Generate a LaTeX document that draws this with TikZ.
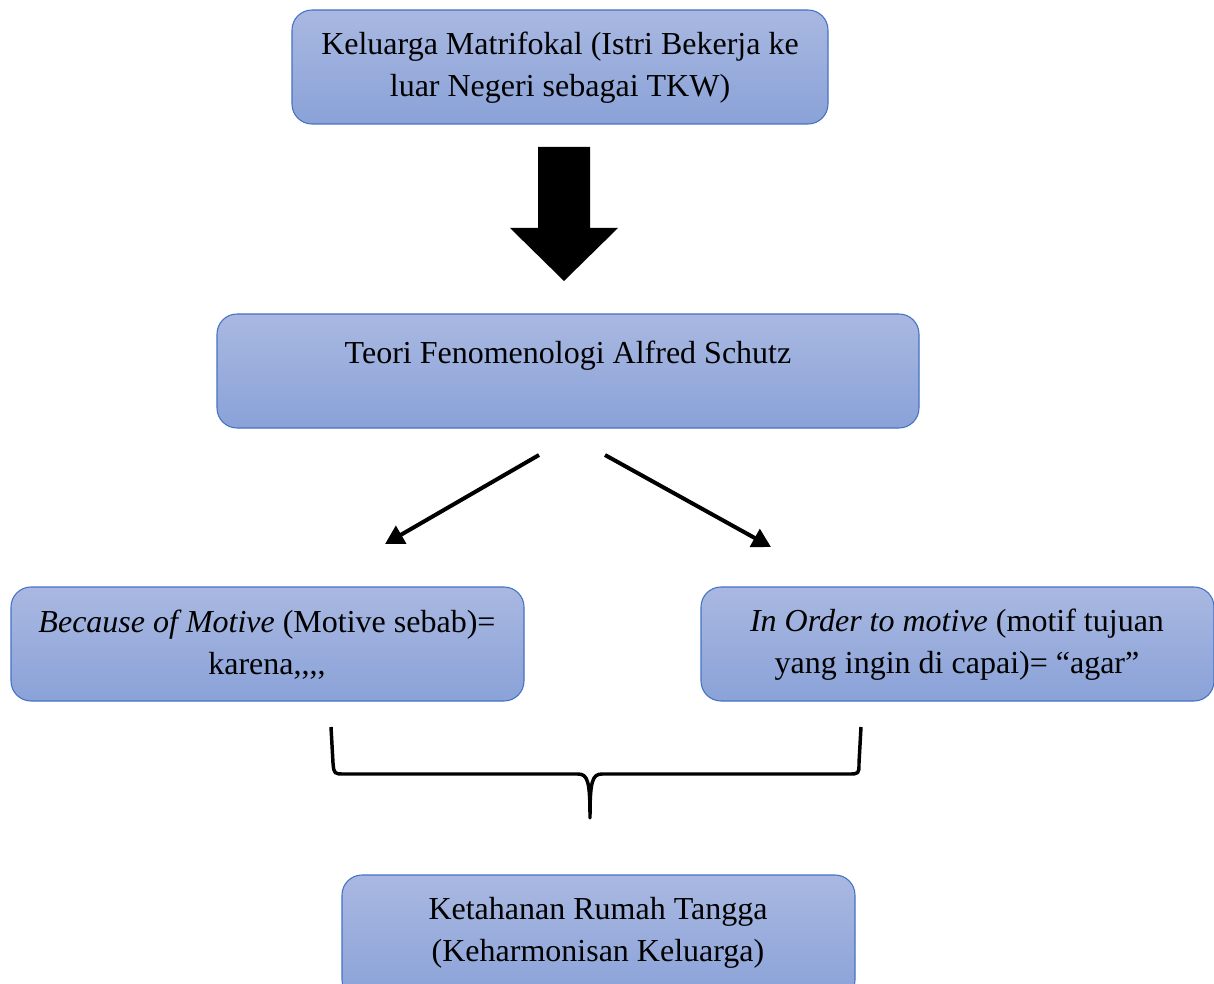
\documentclass[tikz,border=0pt]{standalone}
\usepackage{fontspec}
\setmainfont{Liberation Serif}
\usetikzlibrary{arrows.meta}
\definecolor{boxtop}{HTML}{A9B8E1}
\definecolor{boxbot}{HTML}{8AA2D8}
\definecolor{boxline}{HTML}{4472C4}
\tikzset{
  bx/.style={draw=boxline, line width=0.8pt, rounded corners=15pt, top color=boxtop, bottom color=boxbot, inner sep=0pt},
  tx/.style={align=center, inner sep=0pt, font=\fontsize{24}{31.5}\selectfont},
  thinarrow/.style={line width=3pt, -{Triangle[length=14pt,width=15pt]}},
}
\begin{document}
\begin{tikzpicture}[x=0.75pt,y=-0.75pt]
\useasboundingbox (0,0) rectangle (1214,984);
\clip (0,0) rectangle (1214,984);
% boxes
\path[bx] (292,10) rectangle (828,124);
\node[tx] (t1) at (560,68) {Keluarga Matrifokal (Istri Bekerja ke\\luar Negeri sebagai TKW)};
\path[bx] (217,314) rectangle (919,428);
\node[tx] (t2) at (568,356) {Teori Fenomenologi Alfred Schutz};
\path[bx] (11,587) rectangle (524,701);
\node[tx] (t3) at (267,645) {\textit{Because of Motive} (Motive sebab)=\\karena,{},{},{},};
\path[bx] (701,587) rectangle (1214,701);
\node[tx] (t4) at (957,645) {\textit{In Order to motive} (motif tujuan\\yang ingin di capai)= ``agar''};
\path[bx] (342,875) rectangle (855,1000);
\node[tx] (t5) at (598,933) {Ketahanan Rumah Tangga\\(Keharmonisan Keluarga)};
% block arrow
\fill[black] (538,147) -- (590,147) -- (590,228) -- (618,228) -- (564,281) -- (510,228) -- (538,228) -- cycle;
% arrows
\coordinate (a1s) at (539,455);
\coordinate (a1e) at (385,544);
\coordinate (a2s) at (605,455);
\coordinate (a2e) at (771,547);
\draw[thinarrow] (a1s) -- (a1e);
\draw[thinarrow] (a2s) -- (a2e);
% brace
\draw[line width=2.6pt, line join=round]
  (331,727) -- (333,763) .. controls (334,774) .. (345,774) -- (578,774)
  .. controls (588,774) and (590,782) .. (590,818)
  .. controls (590,782) and (592,774) .. (602,774) -- (848,774)
  .. controls (859,774) .. (859,763) -- (861,727);
\end{tikzpicture}
\end{document}
